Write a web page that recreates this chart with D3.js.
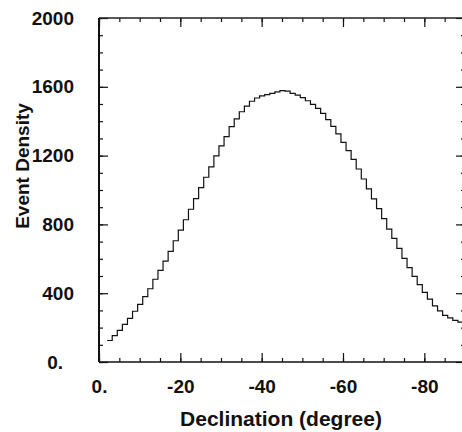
<!DOCTYPE html>
<html>
<head>
<meta charset="utf-8">
<script src="https://cdn.jsdelivr.net/npm/d3@7"></script>
<style>
  html, body { margin: 0; padding: 0; background: #fff; }
  svg { display: block; }
  text { font-family: "Liberation Sans", Arial, Helvetica, sans-serif; font-weight: bold; fill: #111; }
</style>
</head>
<body>
<svg id="chart" width="462" height="432"></svg>
<script>
// ---- data ----
const binStart = -2.0;      // declination of first bin edge (deg)
const binWidth = 1.25;      // bin width (deg)
const density = [
  125, 153, 184, 219, 254, 295, 335, 380, 426, 481,
  533, 587, 643, 705, 767, 827, 888, 950, 1014, 1074,
  1134, 1198, 1256, 1310, 1368, 1413, 1455, 1488, 1516, 1535,
  1547, 1554, 1562, 1570, 1578, 1575, 1562, 1552, 1537, 1519,
  1498, 1475, 1446, 1409, 1370, 1326, 1277, 1229, 1178, 1122,
  1064, 1006, 948, 892, 833, 773, 719, 661, 603, 549,
  498, 450, 405, 365, 326, 297, 271, 256, 242, 232
];
const xMajor = [0, -20, -40, -60, -80];
const xMinor = d3.range(0, -91, -5);
const yMajor = [0, 400, 800, 1200, 1600, 2000];
const yMinor = d3.range(0, 2001, 100);
const xTitle = "Declination (degree)";
const yTitle = "Event Density";

// ---- layout ----
const svg = d3.select("#chart");
const L = 99, R = 465, T = 18, B = 362;
const x = d3.scaleLinear().domain([0, -90]).range([L, R]);
const y = d3.scaleLinear().domain([0, 2000]).range([B, T]);
const fmt = v => v === 0 ? "0." : String(v);

function styleAxis(g) {
  g.select(".domain").remove();
  g.selectAll(".tick line").attr("stroke", "#111").attr("stroke-width", 1.2);
  g.selectAll(".tick text").attr("font-size", 19).attr("fill", "#111")
    .attr("font-family", "Liberation Sans, Arial, sans-serif").attr("font-weight", "bold");
}

// bottom axis
svg.append("g").attr("transform", `translate(0,${B})`)
  .call(d3.axisBottom(x).tickValues(xMinor).tickSize(-4).tickFormat(""))
  .call(styleAxis);
svg.append("g").attr("transform", `translate(0,${B})`)
  .call(d3.axisBottom(x).tickValues(xMajor).tickSize(-9).tickPadding(18).tickFormat(fmt))
  .call(styleAxis);
// top axis
svg.append("g").attr("transform", `translate(0,${T})`)
  .call(d3.axisTop(x).tickValues(xMinor).tickSize(-4).tickFormat(""))
  .call(styleAxis);
svg.append("g").attr("transform", `translate(0,${T})`)
  .call(d3.axisTop(x).tickValues(xMajor).tickSize(-9).tickFormat(""))
  .call(styleAxis);
// left axis
svg.append("g").attr("transform", `translate(${L},0)`)
  .call(d3.axisLeft(y).tickValues(yMinor).tickSize(-4).tickFormat(""))
  .call(styleAxis);
const yl = svg.append("g").attr("transform", `translate(${L},0)`)
  .call(d3.axisLeft(y).tickValues(yMajor).tickSize(-9).tickPadding(25).tickFormat(fmt))
  .call(styleAxis);
yl.selectAll(".tick text").filter(d => d === 0).attr("dx", -11);
// right axis
svg.append("g").attr("transform", `translate(${R},0)`)
  .call(d3.axisRight(y).tickValues(yMinor).tickSize(-4).tickFormat(""))
  .call(styleAxis);
svg.append("g").attr("transform", `translate(${R},0)`)
  .call(d3.axisRight(y).tickValues(yMajor).tickSize(-9).tickFormat(""))
  .call(styleAxis);

// frame
svg.append("line").attr("x1", L).attr("x2", R).attr("y1", B).attr("y2", B)
  .attr("stroke", "#111").attr("stroke-width", 1.5);
svg.append("line").attr("x1", L).attr("x2", R).attr("y1", T).attr("y2", T)
  .attr("stroke", "#222").attr("stroke-width", 1.5);
svg.append("line").attr("x1", L).attr("x2", L).attr("y1", T).attr("y2", B)
  .attr("stroke", "#111").attr("stroke-width", 2);
svg.append("line").attr("x1", R).attr("x2", R).attr("y1", T).attr("y2", B)
  .attr("stroke", "#111").attr("stroke-width", 1.5);

// histogram (step line)
const pts = density.map((v, i) => [binStart - i * binWidth, v]);
pts.push([binStart - density.length * binWidth, density[density.length - 1]]);
const line = d3.line().x(d => x(d[0])).y(d => y(d[1])).curve(d3.curveStepAfter);
svg.append("path").datum(pts).attr("d", line)
  .attr("fill", "none").attr("stroke", "#111").attr("stroke-width", 1.2);

// titles
svg.append("text").attr("x", 281).attr("y", 426)
  .attr("text-anchor", "middle").attr("font-size", 21).text(xTitle);
svg.append("text").attr("transform", "translate(29,166) rotate(-90)")
  .attr("text-anchor", "middle").attr("font-size", 19).text(yTitle);
</script>
</body>
</html>
